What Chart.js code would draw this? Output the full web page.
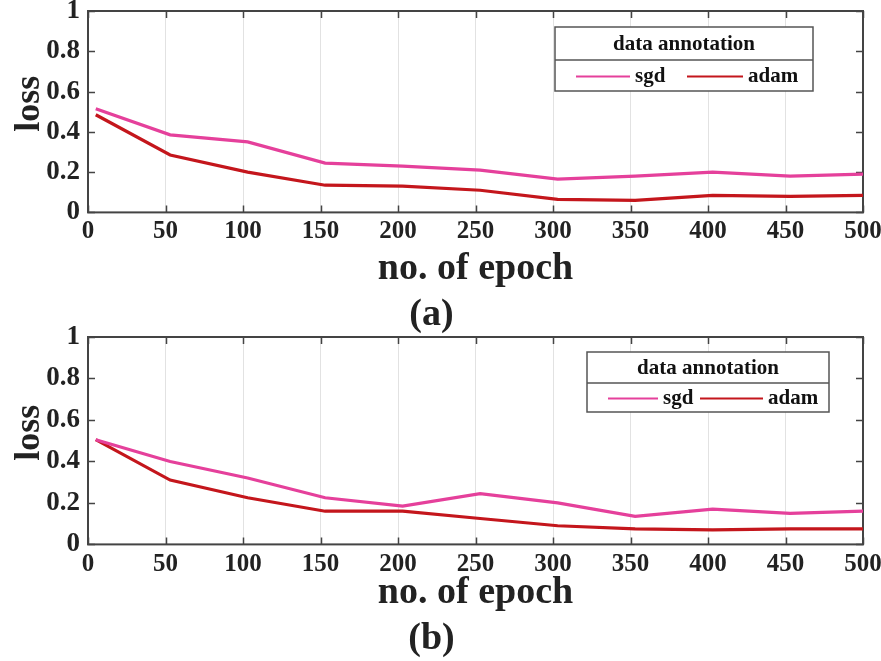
<!DOCTYPE html>
<html>
<head>
<meta charset="utf-8">
<script src="https://cdn.jsdelivr.net/npm/chart.js@4"></script>
<style>
  body { margin: 0; background: #fff; }
  .box { position: absolute; left: 0; width: 881px; }
</style>
</head>
<body>
<div class="box" style="top:0;height:344px"><canvas id="chart-a" width="881" height="344"></canvas></div>
<div class="box" style="top:320px;height:345px"><canvas id="chart-b" width="881" height="345"></canvas></div>
<script>
// data
const epochs = [5, 53, 103, 153, 203, 253, 303, 353, 403, 453, 500];
const sgdA = [0.515, 0.385, 0.35, 0.245, 0.23, 0.21, 0.165, 0.18, 0.2, 0.18, 0.19];
const adamA = [0.485, 0.285, 0.2, 0.135, 0.13, 0.11, 0.065, 0.06, 0.085, 0.08, 0.085];
const sgdB = [0.505, 0.4, 0.32, 0.225, 0.185, 0.245, 0.2, 0.135, 0.17, 0.15, 0.16];
const adamB = [0.505, 0.31, 0.225, 0.16, 0.16, 0.125, 0.09, 0.075, 0.07, 0.075, 0.075];
const seriesNames = ['sgd', 'adam'];
const legendTitle = 'data annotation';
const xLabel = 'no. of epoch';
const yLabel = 'loss';

const pink = '#e5409b';
const red = '#c4161c';
const axisColor = '#444';
const serif = "'Liberation Serif', 'Times New Roman', serif";

// box, inner ticks, y label and the boxed legend
const framePlugin = {
    id: 'frame',
    beforeDatasetsDraw(chart) {
        const { ctx, chartArea: a, scales } = chart;
        ctx.save();
        ctx.strokeStyle = axisColor;
        ctx.lineWidth = 1.5;
        for (let t of scales.y.ticks) {
            let y = Math.round(scales.y.getPixelForValue(t.value)) + 0.5;
            ctx.beginPath();
            ctx.moveTo(a.left, y); ctx.lineTo(a.left + 7, y);
            ctx.moveTo(a.right, y); ctx.lineTo(a.right - 7, y);
            ctx.stroke();
        }
        for (let t of scales.x.ticks) {
            let x = Math.round(scales.x.getPixelForValue(t.value)) + 0.5;
            ctx.beginPath();
            ctx.moveTo(x, a.bottom); ctx.lineTo(x, a.bottom - 7);
            ctx.moveTo(x, a.top); ctx.lineTo(x, a.top + 7);
            ctx.stroke();
        }
        ctx.lineWidth = 2;
        ctx.strokeRect(a.left, a.top, a.right - a.left, a.bottom - a.top);

        // y axis label, a bit above the middle like the original
        ctx.translate(30, (a.top + a.bottom) / 2 - 8);
        ctx.rotate(-Math.PI / 2);
        ctx.fillStyle = '#222';
        ctx.font = 'bold 36px ' + serif;
        ctx.textAlign = 'center';
        ctx.textBaseline = 'middle';
        ctx.fillText(yLabel, 0, 0);
        ctx.restore();
    },
    afterDraw(chart, args, opts) {
        const { ctx, chartArea: a } = chart;
        const L = opts.legend;
        const left = a.right - L.fromRight, top = a.top + L.top;
        ctx.save();
        ctx.fillStyle = '#fff';
        ctx.fillRect(left, top, L.width, L.height);
        ctx.strokeStyle = '#555';
        ctx.lineWidth = 1.5;
        ctx.strokeRect(left, top, L.width, L.height);
        ctx.beginPath();
        ctx.moveTo(left, top + L.split); ctx.lineTo(left + L.width, top + L.split);
        ctx.stroke();
        ctx.fillStyle = '#111';
        ctx.font = 'bold 21px ' + serif;
        ctx.textAlign = 'center';
        ctx.textBaseline = 'middle';
        ctx.fillText(legendTitle, left + L.width / 2, top + L.split / 2 + 1);
        const rowY = top + L.split + (L.height - L.split) / 2 + 1;
        ctx.textAlign = 'left';
        chart.data.datasets.forEach((ds, i) => {
            const e = L.items[i];
            ctx.strokeStyle = ds.borderColor;
            ctx.lineWidth = 2;
            ctx.beginPath();
            ctx.moveTo(left + e[0], rowY); ctx.lineTo(left + e[1], rowY);
            ctx.stroke();
            ctx.fillText(ds.label, left + e[1] + 5, rowY);
        });
        ctx.restore();
    }
};

function makeChart(id, sgd, adam, panel, legend, pad, xHeight, tickPad) {
    const toPts = arr => arr.map((v, i) => ({ x: epochs[i], y: v }));
    return new Chart(document.getElementById(id), {
        type: 'line',
        data: {
            datasets: [
                { label: seriesNames[0], data: toPts(sgd), borderColor: pink, borderWidth: 3.2, pointRadius: 0, tension: 0 },
                { label: seriesNames[1], data: toPts(adam), borderColor: red, borderWidth: 3.2, pointRadius: 0, tension: 0 }
            ]
        },
        options: {
            responsive: false,
            animation: false,
            layout: { padding: pad },
            plugins: {
                legend: { display: false },
                tooltip: { enabled: false },
                title: {
                    display: true,
                    text: panel,
                    position: 'bottom',
                    color: '#222',
                    font: { family: serif, size: 38, weight: 'bold' },
                    padding: { top: 0, bottom: 0 }
                },
                frame: { legend: legend }
            },
            scales: {
                x: {
                    type: 'linear',
                    min: 0,
                    max: 500,
                    ticks: { stepSize: 50, color: '#222', padding: tickPad, font: { family: serif, size: 25, weight: 'bold' } },
                    grid: { color: '#e2e2e2', lineWidth: 1, drawTicks: false },
                    border: { display: false },
                    title: {
                        display: true,
                        text: xLabel,
                        color: '#222',
                        font: { family: serif, size: 38, weight: 'bold' },
                        padding: { top: 0, bottom: 0 }
                    },
                    afterFit(s) { s.height = xHeight; s.paddingLeft = 0; s.paddingRight = 0; }
                },
                y: {
                    min: 0,
                    max: 1,
                    ticks: {
                        stepSize: 0.2, color: '#222', padding: 8,
                        font: { family: serif, size: 27, weight: 'bold' },
                        callback: v => String(Number(v.toFixed(1)))
                    },
                    grid: { display: false, drawTicks: false },
                    border: { display: false },
                    afterFit(s) { s.width = 88; s.paddingTop = 0; s.paddingBottom = 0; }
                }
            }
        },
        plugins: [framePlugin]
    });
}

makeChart('chart-a', sgdA, adamA, '(a)',
    { fromRight: 308, top: 16, width: 258, height: 64, split: 33, items: [[21, 75], [132, 188]] },
    { top: 11, right: 18, left: 0, bottom: 6 }, 80, 4);
makeChart('chart-b', sgdB, adamB, '(b)',
    { fromRight: 276, top: 15, width: 242, height: 60, split: 31, items: [[21, 71], [113, 176]] },
    { top: 17, right: 18, left: 0, bottom: 3 }, 72, 5);
</script>
</body>
</html>
